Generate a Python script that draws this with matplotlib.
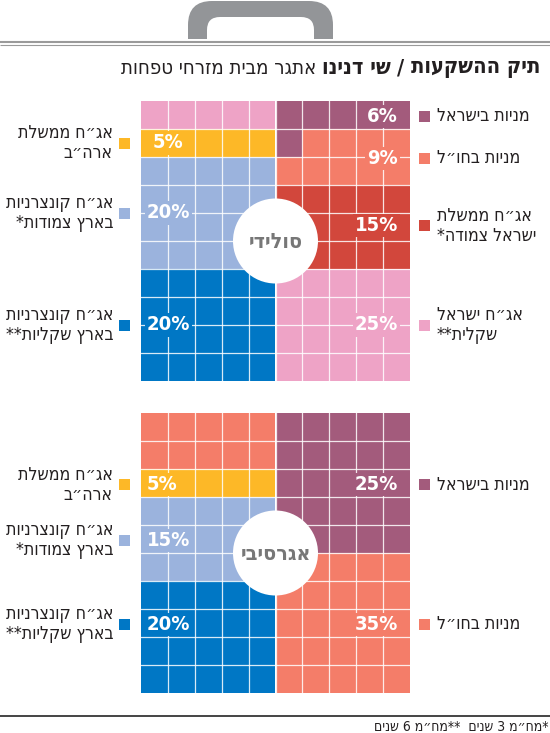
import re
import matplotlib
matplotlib.use('Agg')
import matplotlib.pyplot as plt
from matplotlib import font_manager as fm, ft2font
from matplotlib.font_manager import FontProperties
from matplotlib.patches import Rectangle, Ellipse, FancyBboxPatch

# ---------------- data ----------------
categories = ['מניות בישראל', 'מניות בחו״ל', 'אג״ח ממשלת ישראל צמודה*',
              'אג״ח ישראל שקלית**', 'אג״ח ממשלת ארה״ב',
              'אג״ח קונצרניות בארץ צמודות*', 'אג״ח קונצרניות בארץ שקליות**']
legend_labels = ['מניות בישראל', 'מניות בחו״ל', 'אג״ח ממשלת\nישראל צמודה*',
                 'אג״ח ישראל\nשקלית**', 'אג״ח ממשלת\nארה״ב',
                 'אג״ח קונצרניות\nבארץ צמודות*', 'אג״ח קונצרניות\nבארץ שקליות**']
portfolio_names = ['סולידי', 'אגרסיבי']
solid_values = [6, 9, 15, 25, 5, 20, 20]
aggressive_values = [25, 35, 0, 0, 5, 15, 20]
title_parts = ['תיק ההשקעות', '/', 'שי דנינו', 'אתגר מבית מזרחי טפחות']
footnote = '*מח״מ 3 שנים  **מח״מ 6 שנים'

# ---------------- styles / layout ----------------
colors = ['#A35B7C', '#F47D69', '#D2473C', '#EEA3C6', '#FDB827', '#9BB3DD', '#0077C5']
legend_side = ['right', 'right', 'right', 'right', 'left', 'left', 'left']
title_weights = ['bold', 'bold', 'bold', 'normal']
label_pos = [
    {0: (9.55, 0.54), 1: (9.55, 2.04), 2: (9.55, 4.46), 3: (9.55, 8.0),
     4: (0.45, 1.5), 5: (0.22, 4.0), 6: (0.22, 8.0)},
    {0: (9.55, 2.57), 1: (9.55, 7.54), 4: (0.22, 2.57), 5: (0.22, 4.54),
     6: (0.22, 7.54)},
]
W, H = 550, 733
GX, GW, GH = 141, 269, 280
grid_tops = [101, 413]
TXT = '#231f20'


# ---------------- font choice: a sans font that has Hebrew glyphs ----------------
def _has_hebrew(path):
    try:
        return 0x05D0 in ft2font.FT2Font(path).get_charmap()
    except Exception:
        return False


def _pick(bold):
    best, best_score = None, None
    for f in fm.fontManager.ttflist:
        nm = f.name.lower()
        if 'serif' in nm or 'mono' in nm:
            continue
        w = f.weight if isinstance(f.weight, int) else (700 if 'bold' in str(f.weight) else 400)
        if f.style != 'normal':
            continue
        if bold and w < 600:
            continue
        if not bold and w > 500:
            continue
        if not _has_hebrew(f.fname):
            continue
        cond = ('condensed' in str(f.stretch) or 'narrow' in nm or 'condensed' in nm
                or 'narrow' in f.fname.lower() or 'condensed' in f.fname.lower())
        score = (cond, 'dejavu' in nm or 'liberation' in nm)
        if best_score is None or score > best_score:
            best, best_score = f.fname, score
    return best


_reg, _bold = _pick(False), _pick(True)
FP_REG = FontProperties(fname=_reg) if _reg else FontProperties(family='DejaVu Sans')
FP_BOLD = FontProperties(fname=_bold) if _bold else FontProperties(family='DejaVu Sans',
                                                                    weight='bold')


def vis(s):
    """Logical Hebrew -> visual order (matplotlib has no bidi)."""
    out = []
    for ln in s.split('\n'):
        r = ln[::-1]
        r = re.sub(r'[0-9]+', lambda m: m.group(0)[::-1], r)
        out.append(r)
    return '\n'.join(out)


fig = plt.figure(figsize=(W / 100, H / 100), dpi=100)
ax0 = fig.add_axes([0, 0, 1, 1])
ax0.set_xlim(0, W)
ax0.set_ylim(H, 0)
ax0.axis('off')
renderer = fig.canvas.get_renderer()


def width_of(text, size, fp):
    t = ax0.text(0, 0, text, fontsize=size, fontproperties=fp)
    t.set_fontsize(size)
    w = t.get_window_extent(renderer).width
    t.remove()
    return w


def fit(text, target, base, fp, cap):
    return min(cap, base * target / width_of(text, base, fp))


LEG_SIZE = fit(vis('אג״ח קונצרניות'), 108, 13, FP_REG, 14)
CIRC_SIZE = fit(vis('סולידי'), 54, 15, FP_BOLD, 16)
FOOT_SIZE = fit(vis(footnote), 180, 9, FP_REG, 10)

# briefcase handle
ax0.add_patch(FancyBboxPatch((188, 1), 145, 70, boxstyle='round,pad=0,rounding_size=24',
                             fc='#939598', ec='none'))
ax0.add_patch(FancyBboxPatch((207, 17), 107, 60, boxstyle='round,pad=0,rounding_size=13',
                             fc='white', ec='none'))
ax0.add_patch(Rectangle((150, 39.3), 250, 40, fc='white', ec='none'))
ax0.plot([0, W], [41.6, 41.6], color='#9a9a9a', lw=1.5, solid_capstyle='butt')
ax0.plot([0, W], [44.5, 44.5], color='#9a9a9a', lw=0.8, solid_capstyle='butt')

# bottom rule and footnote
ax0.plot([0, W], [716, 716], color='#444444', lw=1.4, solid_capstyle='butt')
tf = ax0.text(548, 727, vis(footnote), ha='right', va='center', color=TXT,
              fontproperties=FP_REG)
tf.set_fontsize(FOOT_SIZE)

# title: pieces placed right to left, scaled to span the reference width
sizes = [15, 15, 15, 14]
total = sum(width_of(vis(p), s, FP_BOLD if w == 'bold' else FP_REG)
            for p, s, w in zip(title_parts, sizes, title_weights)) + 6 * 3
k = min(1.25, (540 - 117) / total)
x = 540
for part, wgt, s in zip(title_parts, title_weights, sizes):
    t = ax0.text(x, 68, vis(part), ha='right', va='center', color=TXT,
                 fontproperties=FP_BOLD if wgt == 'bold' else FP_REG)
    t.set_fontsize(s * k)
    x -= t.get_window_extent(renderer).width + 6 * k

# fill order: right half row by row, then left half row by row
order = [(r, c) for r in range(10) for c in range(5, 10)] + \
        [(r, c) for r in range(10) for c in range(5)]

for p, vals in enumerate([solid_values, aggressive_values]):
    top = grid_tops[p]
    ax = fig.add_axes([GX / W, 1 - (top + GH) / H, GW / W, GH / H])
    ax.set_xlim(0, 10)
    ax.set_ylim(10, 0)
    ax.axis('off')
    idx = 0
    for ci, v in enumerate(vals):
        for _ in range(v):
            r, c = order[idx]
            ax.add_patch(Rectangle((c, r), 1, 1, fc=colors[ci], ec='none'))
            idx += 1
    for i in range(1, 10):
        ax.axvline(i, color='white', lw=0.9, alpha=0.85)
        ax.axhline(i, color='white', lw=0.9, alpha=0.85)
    rad = 42.5
    ax.add_patch(Ellipse((5, 5), 2 * rad / (GW / 10), 2 * rad / (GH / 10), fc='white',
                         ec='none', zorder=5))
    tc = ax.text(5, 5.05, vis(portfolio_names[p]), ha='center', va='center',
                 color='#777777', zorder=6, fontproperties=FP_BOLD)
    tc.set_fontsize(CIRC_SIZE)
    for ci, (cx, cy) in label_pos[p].items():
        side = legend_side[ci]
        tl = ax.text(cx, cy, f'{vals[ci]}%', ha='right' if side == 'right' else 'left',
                     va='center', color='white', zorder=4, fontproperties=FP_BOLD,
                     bbox=dict(fc=colors[ci], ec='none', pad=1.0))
        tl.set_fontsize(14.5)
        ypx = top + cy * GH / 10
        if side == 'right':
            ax0.add_patch(Rectangle((419, ypx - 5.5), 11, 11, fc=colors[ci], ec='none'))
            tt = ax0.text(437, ypx, vis(legend_labels[ci]), ha='left', va='center',
                          multialignment='left', color=TXT, linespacing=1.1,
                          fontproperties=FP_REG)
        else:
            ax0.add_patch(Rectangle((119, ypx - 5.5), 11, 11, fc=colors[ci], ec='none'))
            tt = ax0.text(113, ypx, vis(legend_labels[ci]), ha='right', va='center',
                          multialignment='right', color=TXT, linespacing=1.1,
                          fontproperties=FP_REG)
        tt.set_fontsize(LEG_SIZE)

fig.savefig('out.png', dpi=100)
